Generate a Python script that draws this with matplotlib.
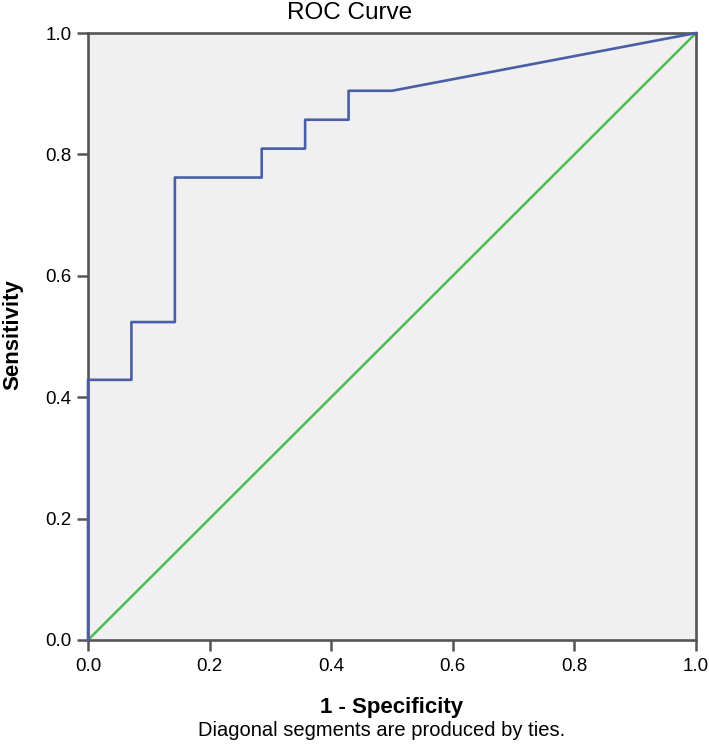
import matplotlib
matplotlib.use("Agg")
import matplotlib.pyplot as plt

plt.rcParams['font.family'] = ['Liberation Sans', 'DejaVu Sans']

# ROC points (1 - specificity, sensitivity)
fpr = [0.0, 0.0, 0.0714, 0.0714, 0.1429, 0.1429, 0.2857, 0.2857,
       0.3571, 0.3571, 0.4286, 0.4286, 0.5, 1.0]
tpr = [0.0, 0.4286, 0.4286, 0.5238, 0.5238, 0.7619, 0.7619, 0.8095,
       0.8095, 0.8571, 0.8571, 0.9048, 0.9048, 1.0]
ref_line = [0.0, 1.0]
ticks = [0.0, 0.2, 0.4, 0.6, 0.8, 1.0]
tick_labels = ['0.0', '0.2', '0.4', '0.6', '0.8', '1.0']

W, H = 709, 756
fig = plt.figure(figsize=(W / 100, H / 100), dpi=100)
ax = fig.add_axes([88 / W, 116 / H, 608 / W, 607 / H])
ax.set_facecolor('#f0f0f0')

ax.plot(ref_line, ref_line, color='#4dbb55', lw=1.8, zorder=2)
ax.plot(fpr, tpr, color='#4a5ea8', lw=1.9, zorder=3, clip_on=False)

ax.set_xlim(0, 1)
ax.set_ylim(0, 1)
ax.set_xticks(ticks)
ax.set_xticklabels(tick_labels)
ax.set_yticks(ticks)
ax.set_yticklabels(tick_labels)
ax.tick_params(direction='out', length=8, width=1.8, color='#555555',
               labelsize=13.5, pad=5)
ax.tick_params(axis='y', pad=4)
for s in ax.spines.values():
    s.set_color('#555555')
    s.set_linewidth(1.9)

# axis titles, title and footnote placed in figure pixels
fig.text(392 / W, 1 - 707 / H, '1 - Specificity', ha='center', va='center',
         fontsize=16, fontweight='bold')
fig.text(13 / W, 1 - 335 / H, 'Sensitivity', ha='center', va='center',
         rotation=90, fontsize=16, fontweight='bold')
fig.text(349.5 / W, 1 - 13 / H, 'ROC Curve', ha='center', va='center',
         fontsize=17.5)
fig.text(382 / W, 1 - 730 / H, 'Diagonal segments are produced by ties.',
         ha='center', va='center', fontsize=14.5)

fig.savefig('out.png', dpi=100)
